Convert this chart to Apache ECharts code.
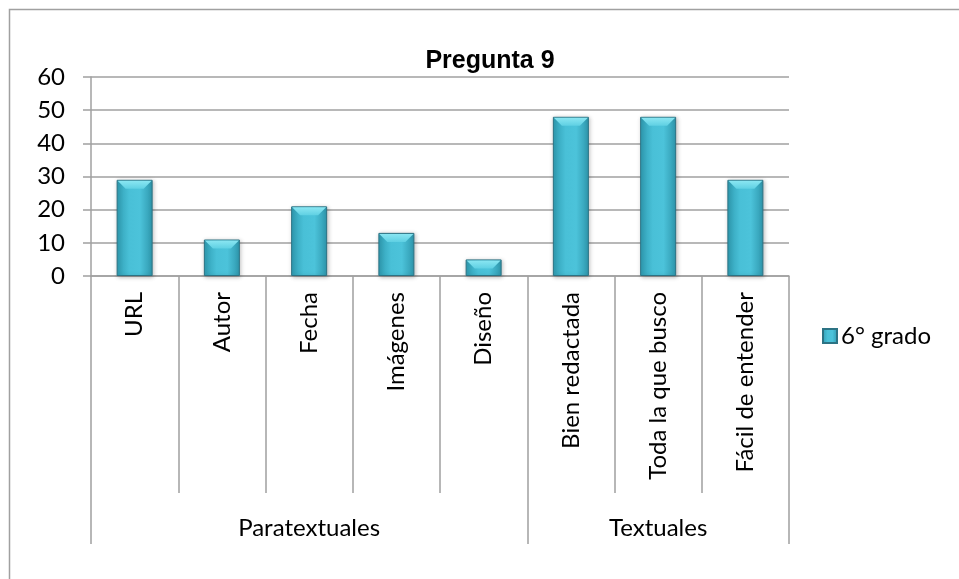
<!DOCTYPE html>
<html>
<head>
<meta charset="utf-8">
<script src="https://cdn.jsdelivr.net/npm/echarts@6/dist/echarts.min.js"></script>
<style>
  html, body { margin: 0; padding: 0; background: #fff; }
  #chart { width: 959px; height: 579px; }
</style>
</head>
<body>
<div id="chart"></div>
<script>
// Survey answers for question 9, grouped by criterion type
const categories = ['URL', 'Autor', 'Fecha', 'Imágenes', 'Diseño', 'Bien redactada', 'Toda la que busco', 'Fácil de entender'];
const values = [29, 11, 21, 13, 5, 48, 48, 29];
const groupNames = ['Paratextuales', 'Textuales'];
const groupSizes = [5, 3];
const seriesName = '6° grado';
const yTicks = [0, 10, 20, 30, 40, 50, 60];

// Index of the first category in each group, and the category under which each group name sits
const groupStarts = [];
const groupLabelAt = {};
let start = 0;
groupSizes.forEach(function (size, g) {
  groupStarts.push(start);
  groupLabelAt[start + Math.floor(size / 2)] = groupNames[g];
  start += size;
});

const FONT = 'Lato, "Open Sans", sans-serif';
const FS = 24;
const GRAY = '#a0a0a0';
const BAR_W = 36;

const barFill = new echarts.graphic.LinearGradient(0, 0, 1, 0, [
  { offset: 0, color: '#2f9db3' },
  { offset: 0.35, color: '#49c0d7' },
  { offset: 0.65, color: '#4cc3da' },
  { offset: 1, color: '#2e97ad' }
]);

// Light bevel on the top edge of each bar
function renderBevel(params, api) {
  const top = api.coord([api.value(0), api.value(1)]);
  const base = api.coord([api.value(0), 0]);
  const half = BAR_W / 2 - 1;
  const depth = Math.min(8, (base[1] - top[1]) / 2);
  const x0 = top[0] - half, x1 = top[0] + half, y = top[1] + 1;
  return {
    type: 'polygon',
    shape: { points: [[x0, y], [x1, y], [x1 - depth, y + depth], [x0 + depth, y + depth]] },
    style: {
      fill: new echarts.graphic.LinearGradient(0, 0, 0, 1, [
        { offset: 0, color: '#8ae6f2' },
        { offset: 1, color: '#5fd0e3' }
      ])
    },
    silent: true
  };
}

const chart = echarts.init(document.getElementById('chart'), null, { renderer: 'canvas' });

chart.setOption({
  animation: false,
  backgroundColor: '#ffffff',
  title: {
    text: 'Pregunta 9',
    left: 485,
    textAlign: 'center',
    top: 44,
    textStyle: {
      fontFamily: '"Liberation Sans Narrow", "Arial Narrow", "Liberation Sans", sans-serif',
      fontWeight: 'bold',
      fontSize: 25,
      color: '#000'
    }
  },
  legend: {
    left: 822,
    top: 324,
    padding: 0,
    orient: 'vertical',
    icon: 'rect',
    itemWidth: 14,
    itemHeight: 14,
    itemGap: 6,
    textStyle: { fontFamily: FONT, fontSize: FS, color: '#000', padding: [0, 0, 0, -1] },
    data: [seriesName]
  },
  grid: { left: 91, right: 170, top: 77, bottom: 303, containLabel: false },
  xAxis: [
    {
      type: 'category',
      data: categories,
      position: 'bottom',
      axisLine: { show: true, lineStyle: { color: GRAY, width: 1.5 } },
      axisTick: { show: true, length: 217, lineStyle: { color: GRAY, width: 1.5 } },
      axisLabel: {
        interval: 0,
        rotate: 90,
        margin: 16,
        fontFamily: FONT,
        fontSize: FS,
        color: '#000'
      },
      splitLine: { show: false }
    },
    {
      type: 'category',
      data: categories,
      position: 'bottom',
      axisLine: { show: false },
      axisTick: {
        show: true,
        length: 268,
        interval: function (index) { return groupStarts.indexOf(index) !== -1; },
        lineStyle: { color: GRAY, width: 1.5 }
      },
      axisLabel: {
        interval: 0,
        margin: 240,
        fontFamily: FONT,
        fontSize: FS,
        color: '#000',
        formatter: function (value, index) { return groupLabelAt[index] || ''; }
      },
      splitLine: { show: false }
    }
  ],
  yAxis: {
    type: 'value',
    min: yTicks[0],
    max: yTicks[yTicks.length - 1],
    interval: yTicks[1] - yTicks[0],
    axisLine: { show: true, lineStyle: { color: GRAY, width: 1.5 } },
    axisTick: { show: true, length: 8, lineStyle: { color: GRAY, width: 1.5 } },
    axisLabel: { margin: 26, fontFamily: FONT, fontSize: FS, color: '#000' },
    splitLine: { show: true, lineStyle: { color: GRAY, width: 1.5 } }
  },
  series: [
    {
      name: seriesName,
      type: 'bar',
      xAxisIndex: 0,
      data: values,
      barWidth: BAR_W,
      itemStyle: {
        color: barFill,
        borderColor: '#2c7384',
        borderWidth: 1,
        shadowColor: 'rgba(0,0,0,0.25)',
        shadowBlur: 4,
        shadowOffsetX: 1,
        shadowOffsetY: 1
      }
    },
    {
      name: 'bevel',
      type: 'custom',
      xAxisIndex: 0,
      z: 3,
      silent: true,
      renderItem: renderBevel,
      data: values.map(function (v, i) { return [i, v]; })
    }
  ],
  graphic: [
    {
      type: 'rect',
      z: -1,
      silent: true,
      shape: { x: 9.5, y: 9.5, width: 980, height: 600 },
      style: { fill: 'none', stroke: GRAY, lineWidth: 1.5 }
    }
  ]
});
</script>
</body>
</html>
